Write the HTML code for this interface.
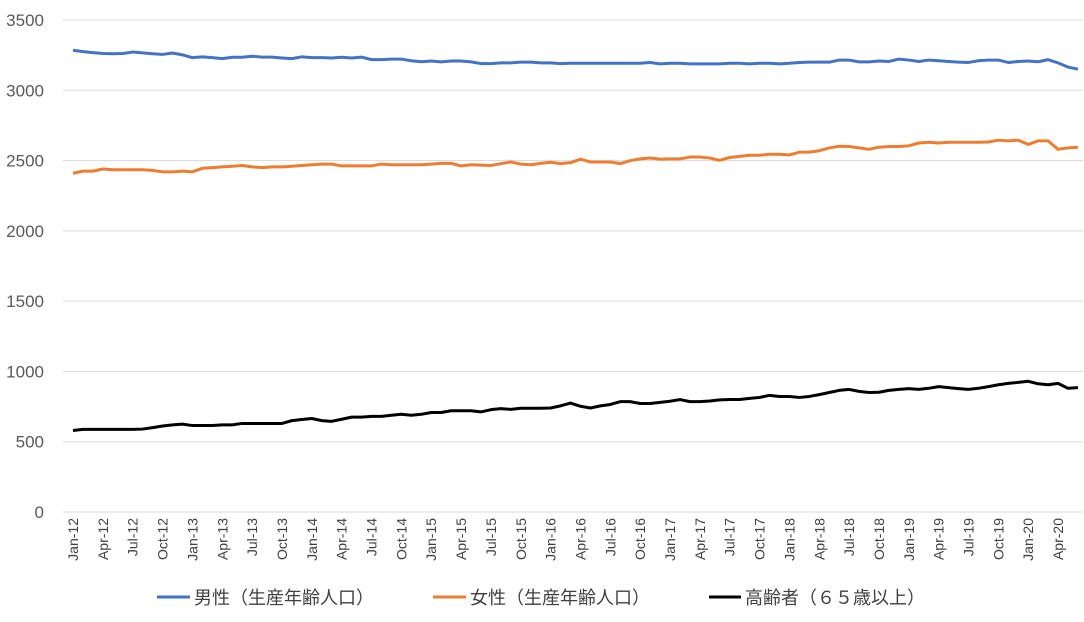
<!DOCTYPE html>
<html><head><meta charset="utf-8"><style>
body{margin:0;background:#fff;font-family:"Liberation Sans","Noto Sans CJK JP",sans-serif}
svg text{font-family:"Liberation Sans","Noto Sans CJK JP",sans-serif;fill:#595959}
</style></head><body>
<svg id="chart" width="1084" height="617">
<g id="grid"></g>
<g id="yaxis"></g>
<g id="xaxis"></g>
<g id="series"></g>
<g>
<g><line x1="157" y1="597" x2="190" y2="597" stroke="#4472c4" stroke-width="3"/><text x="194" y="604" font-size="18" style="fill:#404040">男性（生産年齢人口）</text></g>
<g><line x1="433" y1="597" x2="466" y2="597" stroke="#ed7d31" stroke-width="3"/><text x="470" y="604" font-size="18" style="fill:#404040">女性（生産年齢人口）</text></g>
<g><line x1="709" y1="597" x2="741" y2="597" stroke="#000" stroke-width="3"/><text x="745" y="604" font-size="18" style="fill:#404040">高齢者（６５歳以上）</text></g>
</g>
</svg>
<script>
const yTicks=[0,500,1000,1500,2000,2500,3000,3500];
const male=[3285,3275,3268,3262,3260,3262,3272,3266,3260,3255,3265,3252,
3232,3238,3232,3225,3235,3235,3242,3236,3236,3230,3225,3238,
3232,3232,3230,3235,3230,3236,3218,3218,3222,3222,3210,3203,
3208,3202,3208,3208,3202,3190,3190,3195,3195,3200,3200,3195,
3195,3190,3192,3192,3192,3192,3192,3192,3192,3192,3198,3188,
3192,3192,3188,3188,3188,3188,3192,3192,3188,3192,3192,3188,
3192,3198,3200,3200,3200,3215,3215,3202,3202,3208,3205,3222,
3215,3205,3215,3210,3205,3200,3198,3210,3215,3215,3198,3205,
3208,3203,3218,3195,3165,3150];
const female=[2410,2425,2425,2440,2435,2435,2435,2435,2430,2420,2420,2425,
2420,2445,2450,2455,2460,2465,2455,2450,2455,2455,2460,2465,
2470,2475,2475,2462,2462,2462,2462,2475,2470,2470,2470,2470,
2475,2480,2480,2462,2470,2468,2465,2478,2490,2475,2470,2480,
2488,2478,2485,2510,2490,2490,2490,2478,2500,2512,2518,2510,
2512,2512,2525,2525,2518,2502,2522,2530,2538,2538,2545,2545,
2540,2560,2560,2570,2590,2602,2600,2590,2580,2595,2600,2600,
2605,2625,2630,2625,2630,2630,2630,2630,2632,2645,2640,2645,
2615,2640,2640,2580,2590,2595];
const elderly=[580,588,588,588,588,588,588,590,600,612,620,625,
615,615,615,620,620,630,630,630,630,630,650,658,
665,650,645,660,675,675,680,680,688,695,688,695,
708,708,720,720,720,712,728,735,730,738,738,738,
740,755,775,752,740,755,765,785,785,772,772,780,
788,800,785,785,790,798,800,800,808,815,830,822,
822,815,822,835,850,865,872,858,850,852,865,872,
878,872,880,892,885,878,872,880,892,905,915,922,
930,912,905,915,880,885];
const months=["Jan","Apr","Jul","Oct"];
const NS="http://www.w3.org/2000/svg";
const x0=73,dx=9.95,yb=512,yt=20,ymax=3500;
const X=i=>x0+i*dx, Y=v=>yb-(v/ymax)*(yb-yt);
function mk(t,a,p){const e=document.createElementNS(NS,t);for(const k in a)e.setAttribute(k,a[k]);p.appendChild(e);return e;}
const grid=document.getElementById('grid'),ya=document.getElementById('yaxis'),xa=document.getElementById('xaxis'),se=document.getElementById('series');
yTicks.forEach(v=>{
 const l=mk('line',{x1:63,x2:1083,y1:Y(v),y2:Y(v),stroke:'#d9d9d9','stroke-width':1},grid);
 
 
 const t=mk('text',{x:44,y:Y(v)+6,'text-anchor':'end','font-size':17},ya);t.textContent=v;
 
 
});
for(let i=0;i<male.length;i+=3){
 const yr=12+Math.floor(i/12);const lab=months[(i%12)/3]+'-'+yr;
 const t=mk('text',{x:0,y:0,'text-anchor':'end','font-size':14,style:'fill:#404040',transform:`translate(${X(i)+5},518) rotate(-90)`},xa);t.textContent=lab;
 
 
}
[[male,'#4472c4','male-line'],[female,'#ed7d31','female-line'],[elderly,'#000','elderly-line']].forEach(([d,c,n])=>{
 const p=mk('polyline',{points:d.map((v,i)=>X(i)+','+Y(v)).join(' '),fill:'none',stroke:c,'stroke-width':3,'stroke-linejoin':'round'},se);
 
 
});
</script>
</body></html>
